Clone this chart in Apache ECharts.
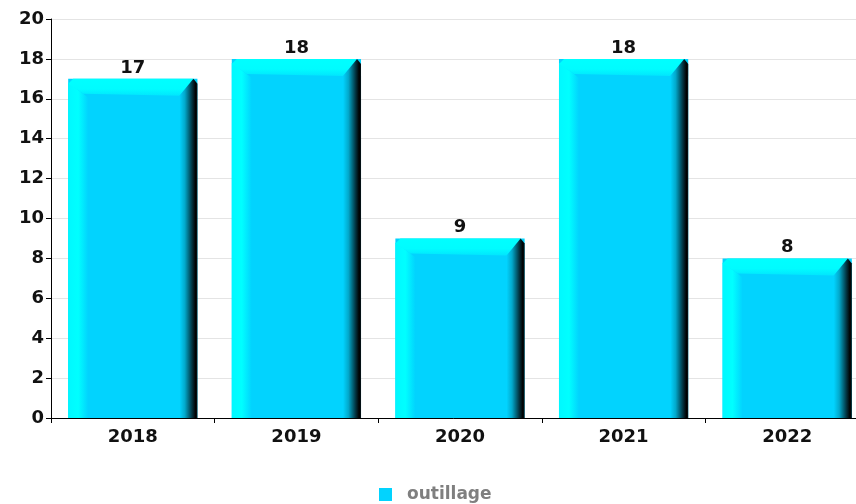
<!DOCTYPE html>
<html>
<head>
<meta charset="utf-8">
<script src="https://cdn.jsdelivr.net/npm/echarts@6/dist/echarts.min.js"></script>
<style>
  html, body { margin: 0; padding: 0; background: #fff; }
  #main { width: 856px; height: 504px; }
</style>
</head>
<body>
<div id="main"></div>
<script>
var years = ['2018', '2019', '2020', '2021', '2022'];
var outillage = [17, 18, 9, 18, 8];
var seriesName = 'outillage';

var chart = echarts.init(document.getElementById('main'));

// bevelled 3d bar, drawn from the axis coords
function renderBar(params, api) {
    var idx = api.value(0);
    var val = api.value(1);
    var top = api.coord([idx, val]);
    var base = api.coord([idx, 0]);
    var w = api.size([1, 0])[0] * 0.79;
    var x0 = top[0] - w / 2, x1 = top[0] + w / 2;
    var y0 = top[1], y1 = base[1];
    var b = 15, bl = 20, br = 18;
    var front = '#02d3fe';
    return {
        type: 'group',
        children: [
            { type: 'rect', shape: { x: x0, y: y0, width: w, height: y1 - y0 }, style: { fill: front } },
            { type: 'polygon', shape: { points: [[x0, y0 + 4], [x0 + b, y0 + b], [x0 + bl, y0 + b + 4], [x0 + bl, y1], [x0, y1]] },
              style: { fill: new echarts.graphic.LinearGradient(0, 0, 1, 0, [
                  { offset: 0, color: '#00f8ff' }, { offset: 0.5, color: '#00ffff' }, { offset: 1, color: front }]) } },
            { type: 'polygon', shape: { points: [[x0 + 5, y0], [x1 - 4, y0], [x1 - br, y0 + b + 2], [x0 + b, y0 + b], [x0, y0 + 5]] },
              style: { fill: new echarts.graphic.LinearGradient(0, 0, 0, 1, [
                  { offset: 0, color: '#00ffff' }, { offset: 0.6, color: '#00fcff' }, { offset: 1, color: '#01e6fe' }]) } },
            { type: 'polygon', shape: { points: [[x1 - 4, y0], [x1, y0 + 5], [x1, y1], [x1 - br, y1], [x1 - br, y0 + b + 2]] },
              style: { fill: new echarts.graphic.LinearGradient(0, 0, 1, 0, [
                  { offset: 0, color: front }, { offset: 0.3, color: '#02a9cc' }, { offset: 0.7, color: '#023441' }, { offset: 0.9, color: '#000000' }, { offset: 1, color: '#06161c' }]) } },
            { type: 'text', x: top[0], y: y0 - 2,
              style: { text: String(val), fill: '#111', font: 'bold 18px "DejaVu Sans"', align: 'center', verticalAlign: 'bottom' } }
        ]
    };
}

var option = {
    animation: false,
    textStyle: { fontFamily: 'DejaVu Sans' },
    grid: { left: 51, width: 818, top: 19, bottom: 86, containLabel: false, outerBoundsMode: 'none' },
    legend: {
        data: [{ name: seriesName, icon: 'rect' }],
        top: 481,
        left: 374,
        itemWidth: 13,
        itemHeight: 13,
        textStyle: { color: '#7f7f7f', fontWeight: 'bold', fontSize: 17, fontFamily: 'DejaVu Sans', padding: [0, 0, 0, 10] }
    },
    xAxis: {
        type: 'category',
        data: years,
        axisLine: { lineStyle: { color: '#000', width: 1 } },
        axisTick: { show: true, length: 5, lineStyle: { color: '#000' } },
        axisLabel: { color: '#111', fontWeight: 'bold', fontSize: 18, margin: 10 }
    },
    yAxis: {
        type: 'value',
        min: 0,
        max: 20,
        interval: 2,
        axisLine: { show: true, lineStyle: { color: '#000', width: 1 } },
        axisTick: { show: true, length: 5, lineStyle: { color: '#000' } },
        axisLabel: { color: '#111', fontWeight: 'bold', fontSize: 18, margin: 7 },
        splitLine: { lineStyle: { color: '#e4e4e4' } }
    },
    series: [{
        name: seriesName,
        type: 'custom',
        color: '#02d3fe',
        renderItem: renderBar,
        encode: { x: 0, y: 1 },
        data: outillage.map(function (v, i) { return [i, v]; })
    }]
};

chart.setOption(option);
</script>
</body>
</html>
